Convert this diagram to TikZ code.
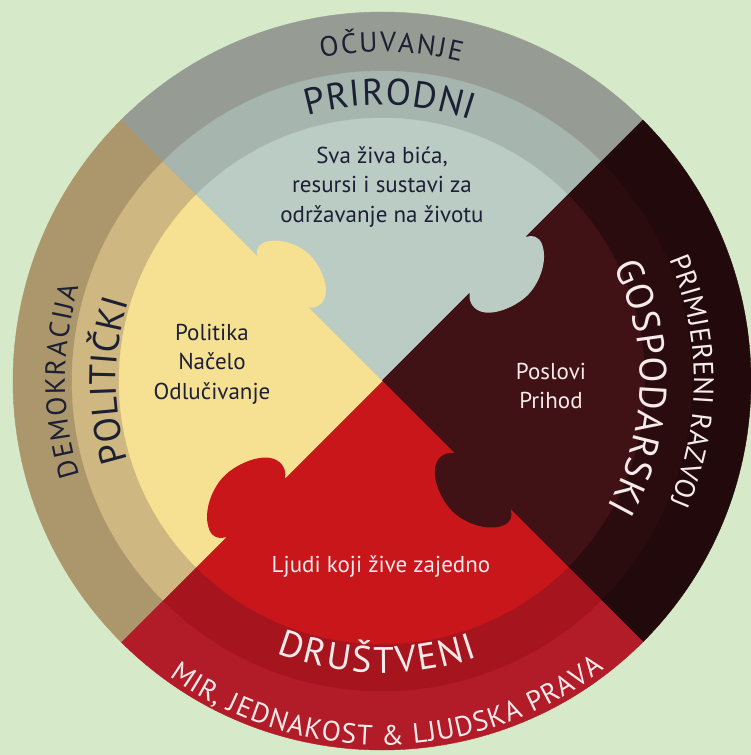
\documentclass[tikz,border=0pt]{standalone}
\usepackage{fontspec}
\setmainfont{PT Sans}

\definecolor{paper}{RGB}{214,233,200}
\definecolor{outer-top}{RGB}{150,156,148}
\definecolor{mid-top}{RGB}{166,181,173}
\definecolor{inner-top}{RGB}{187,204,197}
\definecolor{outer-left}{RGB}{172,150,108}
\definecolor{mid-left}{RGB}{206,183,128}
\definecolor{inner-left}{RGB}{246,224,146}
\definecolor{outer-right}{RGB}{34,9,11}
\definecolor{mid-right}{RGB}{42,11,14}
\definecolor{inner-right}{RGB}{64,17,21}
\definecolor{outer-bottom}{RGB}{178,28,40}
\definecolor{mid-bottom}{RGB}{166,20,30}
\definecolor{inner-bottom}{RGB}{200,22,26}
\definecolor{ink}{RGB}{28,32,52}
\definecolor{chalk}{RGB}{246,234,234}

\newcommand\ringsmall{\fontsize{28}{28}\selectfont}
\newcommand\ringbig{\fontsize{37}{37}\selectfont}
\newcommand\ringlarge{\fontsize{38}{38}\selectfont}

\newlength\bentacclen
\newlength\benttotlen
\newlength\bentstep
\newsavebox\bentbox
% measured outside the picture: #1 name, #2 font, #3 extra space per letter (pt), #4 letters
\newcommand\bentprep[4]{%
  \expandafter\gdef\csname bent@#1\endcsname{#4}%
  \global\bentacclen=0pt
  \foreach \ch in {#4} {\sbox\bentbox{#2\ch}\global\advance\bentacclen by \dimexpr\wd\bentbox+#3pt\relax}%
  \global\benttotlen=\bentacclen
  \global\bentacclen=0pt
  \foreach \ch [count=\i] in {#4} {%
    \sbox\bentbox{#2\ch}%
    \global\bentstep=\dimexpr\wd\bentbox+#3pt\relax
    \expandafter\xdef\csname bent@#1@\i\endcsname{\the\dimexpr\bentacclen+\bentstep/2-\benttotlen/2\relax}%
    \global\advance\bentacclen by \bentstep
  }%
}
% #1 name, #2 font, #3 colour, #4 radius, #5 centre angle, #6 1 = clockwise / -1 = anticlockwise
\newcommand\bentword[6]{%
  \expandafter\let\expandafter\bentletters\csname bent@#1\endcsname
  \foreach \ch [count=\i] in \bentletters {%
    \pgfmathsetmacro\bentang{#5-(#6)*(\csname bent@#1@\i\endcsname)/#4*180/pi}%
    \node[bent, font=#2, rotate=\bentang-90*(#6), text=#3] (#1-\i) at (\bentang:#4) {\ch};%
  }%
}

\begin{document}
\bentprep{ocuvanje}{\ringsmall}{1.9}{O,Č,U,V,A,N,J,E}
\bentprep{prirodni}{\ringbig}{0.8}{P,R,I,R,O,D,N,I}
\bentprep{demokracija}{\ringsmall}{1.8}{D,E,M,O,K,R,A,C,I,J,A}
\bentprep{politicki}{\ringbig}{0}{P,O,L,I,T,I,Č,K,I}
\bentprep{razvoj}{\ringsmall}{0.4}{P,R,I,M,J,E,R,E,N,I,~,R,A,Z,V,O,J}
\bentprep{gospodarski}{\ringlarge}{1}{G,O,S,P,O,D,A,R,S,K,I}
\bentprep{drustveni}{\ringbig}{2.4}{D,R,U,Š,T,V,E,N,I}
\bentprep{mir}{\ringsmall}{1}{M,I,R,{,},~,J,E,D,N,A,K,O,S,T,~,\&,~,L,J,U,D,S,K,A,~,P,R,A,V,A}
\begin{tikzpicture}[
  x=1pt, y=1pt,
  wedge/.style={fill=#1, draw=#1, line width=0.4pt},
  core/.style={font=\fontsize{23}{29.5}\selectfont, align=center, inner sep=0pt},
  bent/.style={inner sep=0pt, anchor=base}
]
\useasboundingbox (-382,-374) rectangle (369,381);
\fill[paper] (-382,-374) rectangle (369,381);
\foreach \ang/\co [evaluate=\ang as \lo using \ang-45, evaluate=\ang as \hi using \ang+45] in {90/top, 0/right, 270/bottom, 180/left} {
  \fill[wedge=outer-\co] (0,0) -- (\lo:369) arc[start angle=\lo, end angle=\hi, radius=369] -- cycle;
  \fill[wedge=mid-\co] (0,0) -- (\lo:310) arc[start angle=\lo, end angle=\hi, radius=310] -- cycle;
  \fill[wedge=inner-\co] (0,0) -- (\lo:263) arc[start angle=\lo, end angle=\hi, radius=263] -- cycle;
}
\foreach \ang/\co/\start/\sc in {180/left/104/0.9, 90/top/124/1, 0/right/102/1, 270/bottom/137/1.05}
  \fill[inner-\co, rotate=\ang-45, yscale=-1, shift={(\start,0)}, scale=\sc]
    (0,-2) -- (0,0) .. controls (-8,6) and (-9,16) .. (-3,24)
    .. controls (5,35) and (28,44) .. (45,42)
    .. controls (62,40) and (80,30) .. (86,16)
    .. controls (89,9) and (86,3) .. (80,0) -- (80,-2) -- cycle;

\node[core, text=ink] (living) at (0,194) {Sva živa bića,\\resursi i sustavi za\\održavanje na životu};
\node[core, text=ink] (policy) at (-170,17) {Politika\\Načelo\\Odlučivanje};
\node[core, text=chalk] (business) at (169,-5) {Poslovi\\Prihod};
\node[core, text=chalk] (people) at (-1,-186) {Ljudi koji žive zajedno};

\bentword{ocuvanje}{\ringsmall}{ink}{329}{88.4}{1}
\bentword{prirodni}{\ringbig}{ink}{276}{88.4}{1}
\bentword{demokracija}{\ringsmall}{ink}{317}{180}{1}
\bentword{politicki}{\ringbig}{ink}{266}{180}{1}
\bentword{razvoj}{\ringsmall}{chalk}{312}{0}{1}
\bentword{gospodarski}{\ringlarge}{chalk}{258}{-1.5}{1}
\bentword{drustveni}{\ringbig}{chalk}{292}{269}{-1}
\bentword{mir}{\ringsmall}{chalk}{364}{271}{-1}
\end{tikzpicture}
\end{document}
